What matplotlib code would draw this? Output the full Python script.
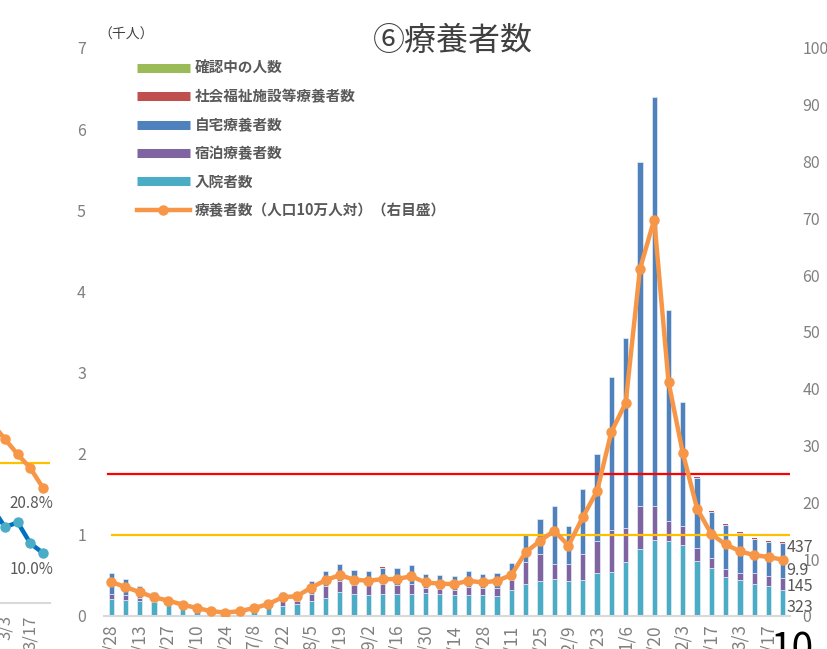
import numpy as np
import matplotlib
matplotlib.use('Agg')
import matplotlib.pyplot as plt
from matplotlib.lines import Line2D

plt.rcParams['font.family'] = ['Noto Sans CJK JP', 'DejaVu Sans']

# weekly dates (4/28 .. 3/24)
dates = ['4/28', '5/6', '5/13', '5/20', '5/27', '6/3', '6/10', '6/17', '6/24', '7/1',
         '7/8', '7/15', '7/22', '7/29', '8/5', '8/12', '8/19', '8/26', '9/2', '9/9',
         '9/16', '9/23', '9/30', '10/7', '10/14', '10/21', '10/28', '11/4', '11/11', '11/18',
         '11/25', '12/2', '12/9', '12/16', '12/23', '12/30', '1/6', '1/13', '1/20', '1/27',
         '2/3', '2/10', '2/17', '2/24', '3/3', '3/10', '3/17', '3/24']

# thousands of people
hospital = [0.21, 0.20, 0.19, 0.17, 0.15, 0.12, 0.09, 0.06, 0.045, 0.05,
            0.08, 0.12, 0.12, 0.15, 0.18, 0.22, 0.30, 0.27, 0.26, 0.27,
            0.275, 0.27, 0.28, 0.27, 0.255, 0.26, 0.255, 0.25, 0.32, 0.40,
            0.43, 0.45, 0.43, 0.44, 0.53, 0.54, 0.67, 0.82, 0.94, 0.92,
            0.87, 0.68, 0.59, 0.485, 0.44, 0.40, 0.37, 0.323]
hotel = [0.065, 0.06, 0.03, 0.02, 0.01, 0.01, 0.005, 0.0, 0.0, 0.0,
         0.005, 0.02, 0.065, 0.04, 0.09, 0.15, 0.13, 0.11, 0.12, 0.12,
         0.105, 0.12, 0.06, 0.06, 0.065, 0.10, 0.095, 0.10, 0.12, 0.265,
         0.33, 0.195, 0.215, 0.33, 0.40, 0.52, 0.42, 0.54, 0.41, 0.25,
         0.24, 0.16, 0.13, 0.095, 0.09, 0.13, 0.12, 0.145]
home = [0.255, 0.19, 0.15, 0.11, 0.06, 0.04, 0.025, 0.02, 0.01, 0.02,
        0.035, 0.05, 0.115, 0.11, 0.16, 0.185, 0.21, 0.19, 0.18, 0.20,
        0.21, 0.235, 0.18, 0.17, 0.17, 0.19, 0.17, 0.18, 0.21, 0.345,
        0.43, 0.715, 0.465, 0.80, 1.07, 1.89, 2.33, 4.24, 5.05, 2.60,
        1.53, 0.86, 0.565, 0.54, 0.49, 0.42, 0.42, 0.437]
welfare = [0, 0, 0, 0, 0, 0, 0, 0, 0, 0,
           0, 0, 0, 0, 0, 0, 0, 0, 0, 0.01,
           0, 0, 0, 0, 0, 0, 0, 0, 0, 0,
           0, 0, 0, 0, 0, 0, 0, 0, 0, 0,
           0, 0.01, 0.015, 0.012, 0.01, 0.01, 0.01, 0.01]
checking = [0, 0, 0, 0, 0, 0, 0, 0, 0, 0,
            0, 0, 0, 0, 0, 0, 0, 0, 0, 0,
            0, 0, 0, 0, 0, 0, 0, 0, 0, 0,
            0, 0, 0, 0, 0, 0, 0, 0, 0, 0,
            0, 0, 0, 0, 0, 0, 0, 0]

# per 100k population (right axis)
per100k = [6.0, 5.1, 4.2, 3.3, 2.7, 2.0, 1.4, 0.85, 0.6, 0.85,
           1.4, 2.1, 3.3, 3.5, 5.0, 6.3, 7.2, 6.4, 6.2, 6.5,
           6.5, 7.0, 5.9, 5.7, 5.6, 6.2, 5.9, 6.2, 7.2, 11.2,
           13.2, 15.0, 12.4, 17.4, 22.0, 32.4, 37.5, 61.1, 69.8, 41.2,
           28.7, 18.9, 14.4, 12.6, 11.4, 10.7, 10.4, 9.9]
limit_people = 1.0    # thousand people (yellow)
limit_rate = 25       # per 100k (red)

# neighbouring chart fragment at the left edge
side_dates = ['2/24', '3/3', '3/10', '3/17', '3/24']
side_rate_a = [31.5, 28.9, 26.4, 24.1, 20.8]
side_rate_b = [17.5, 14.3, 15.1, 11.6, 10.0]
side_target = 25

GRAY = '#808080'
DARK = '#595959'
C_HOSP = '#4BACC6'
C_HOTEL = '#8064A2'
C_HOME = '#4F81BD'
C_WELF = '#C0504D'
C_CHECK = '#9BBB59'
C_LINE = '#F79646'

fig = plt.figure(figsize=(8.28, 6.49), dpi=100)

# ---- left fragment ----
ax0 = fig.add_axes([0, 1 - 603 / 649, 50 / 828, 555 / 649])
xs = np.arange(len(side_dates)) - 1
ax0.axhline(side_target, color='#FFC000', lw=1.6, zorder=1)
ax0.plot(xs, side_rate_a, color=C_LINE, lw=3.2, marker='o', ms=6.5, zorder=3)
ax0.plot(xs, side_rate_b, color='#0070C0', lw=3.2, marker='o', ms=6.5,
         mfc=C_HOSP, mec=C_HOSP, zorder=3)
ax0.annotate(f'{side_rate_a[-1]:.1f}%', (xs[-1], side_rate_a[-1]), xytext=(-8.6, -10.8),
             textcoords='offset points', ha='center', va='center', fontsize=11, color=DARK,
             annotation_clip=False)
ax0.annotate(f'{side_rate_b[-1]:.1f}%', (xs[-1], side_rate_b[-1]), xytext=(-8.6, -12.2),
             textcoords='offset points', ha='center', va='center', fontsize=11, color=DARK,
             annotation_clip=False)
ax0.set_xlim(-0.395, 3.55)
ax0.set_ylim(1.7, 93.9)
ax0.set_xticks([0, 2])
ax0.set_xticklabels([side_dates[1], side_dates[3]], rotation=90, va='top')
ax0.tick_params(axis='x', length=0, pad=9, labelsize=12, labelcolor=GRAY)
ax0.set_yticks([])
for s in ['top', 'left', 'right']:
    ax0.spines[s].set_visible(False)
ax0.spines['bottom'].set_color('#D9D9D9')
ax0.spines['bottom'].set_linewidth(1.5)
ax0.patch.set_alpha(0)

# ---- main chart ----
ax = fig.add_axes([104 / 828, 1 - 616 / 649, 686 / 828, 568 / 649])
x = np.arange(len(dates))
w = 0.37
edge = dict(edgecolor='#E4ECF6', linewidth=0.5)
b1 = np.array(hospital)
b2 = b1 + np.array(hotel)
b3 = b2 + np.array(home)
b4 = b3 + np.array(welfare)
ax.bar(x, hospital, w, color=C_HOSP, **edge)
ax.bar(x, hotel, w, bottom=b1, color=C_HOTEL, **edge)
ax.bar(x, home, w, bottom=b2, color=C_HOME, **edge)
ax.bar(x, welfare, w, bottom=b3, color=C_WELF, linewidth=0)
ax.bar(x, checking, w, bottom=b4, color=C_CHECK, linewidth=0)
ax.axhline(limit_people, color='#FFC000', lw=1.6, xmin=0.012, zorder=4)
ax.set_xlim(-0.5, len(dates) - 0.5)
ax.set_ylim(0, 7)
ax.set_yticks(range(0, 8))
ax.set_xticks(x[::2])
ax.set_xticklabels(dates[::2], rotation=90, va='top')
ax.tick_params(axis='y', length=0, pad=13, labelsize=11.5, labelcolor=GRAY)
ax.tick_params(axis='x', length=0, pad=6, labelsize=12.5, labelcolor=GRAY)
for s in ['top', 'left', 'right']:
    ax.spines[s].set_visible(False)
ax.spines['bottom'].set_color('#D9D9D9')
ax.spines['bottom'].set_linewidth(1.5)

ax2 = ax.twinx()
ax2.axhline(limit_rate, color='#FF0000', lw=1.6, xmin=0.006)
ax2.plot(x, per100k, color=C_LINE, lw=3.2, marker='o', ms=6.5, zorder=5)
ax2.set_ylim(0, 100)
ax2.set_yticks(range(0, 101, 10))
ax2.tick_params(axis='y', length=0, pad=9, labelsize=11.5, labelcolor=GRAY)
for s in ax2.spines.values():
    s.set_visible(False)

# data labels for the latest week
lab = dict(textcoords='offset points', ha='left', va='center', fontsize=11.5,
           color=DARK, annotation_clip=False)
ax.annotate(f'{home[-1] * 1000:.0f}', (x[-1] + 0.25, b3[-1]), xytext=(0, -3.5), **lab)
ax.annotate(f'{hotel[-1] * 1000:.0f}', (x[-1] + 0.25, (b1[-1] + b2[-1]) / 2), xytext=(0, -2), **lab)
ax.annotate(f'{hospital[-1] * 1000:.0f}', (x[-1] + 0.25, b1[-1] / 2), xytext=(0, -3), **lab)
ax2.annotate(f'{per100k[-1]:.1f}', (x[-1] + 0.25, per100k[-1]), xytext=(0, -8), **lab)

# legend
handles = [
    Line2D([0], [0], color=C_CHECK, lw=6.5, solid_capstyle='butt'),
    Line2D([0], [0], color=C_WELF, lw=6.5, solid_capstyle='butt'),
    Line2D([0], [0], color=C_HOME, lw=6.5, solid_capstyle='butt'),
    Line2D([0], [0], color=C_HOTEL, lw=6.5, solid_capstyle='butt'),
    Line2D([0], [0], color=C_HOSP, lw=6.5, solid_capstyle='butt'),
    Line2D([0], [0], color=C_LINE, lw=3.2, marker='o', ms=6.5),
]
labels = ['確認中の人数', '社会福祉施設等療養者数', '自宅療養者数', '宿泊療養者数', '入院者数',
          '療養者数（人口10万人対）（右目盛）']
leg = fig.legend(handles, labels, loc='upper left', bbox_to_anchor=(137 / 828, 1 - 60 / 649),
                 frameon=False, prop={'size': 10.5, 'weight': 'bold'}, labelcolor=DARK,
                 handlelength=3.6, handletextpad=0.35, labelspacing=0.85, borderpad=0,
                 borderaxespad=0)

fig.text(453 / 828, 1 - 41 / 649, '⑥療養者数', ha='center', va='center', fontsize=23, color='#404040')
fig.text(126 / 828, 1 - 35 / 649, '（千人）', ha='center', va='center', fontsize=10, color='#404040')
fig.text(792 / 828, 1 - 630 / 649, '10', ha='center', va='top', fontsize=28, color='black')

fig.savefig('out.png', dpi=100)
